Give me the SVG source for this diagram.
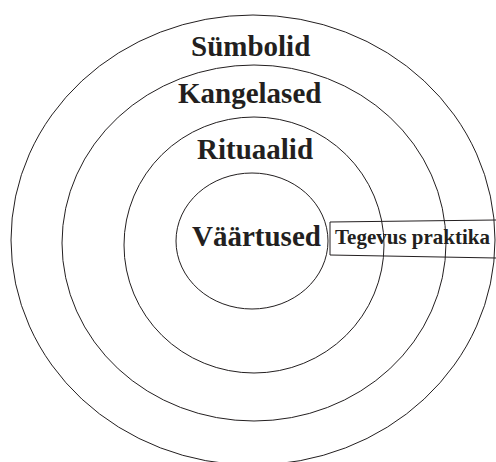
<svg xmlns="http://www.w3.org/2000/svg" width="496" height="462" viewBox="0 0 496 462">
<style>
.ring{fill:none;stroke:#231f20;stroke-width:1}
.lbl{font-family:"Liberation Serif","Times New Roman",serif;font-weight:bold;fill:#231f20}
.big{font-size:29px}
.small{font-size:21px}
</style>
<rect width="496" height="462" fill="#fff"/>
<g id="ring-symbolid"><ellipse class="ring" cx="253" cy="240" rx="242" ry="225"/><text class="lbl big" x="191" y="56">Sümbolid</text></g>
<g id="ring-kangelased"><ellipse class="ring" cx="254" cy="243" rx="192" ry="178"/><text class="lbl big" x="178" y="103">Kangelased</text></g>
<g id="ring-rituaalid"><ellipse class="ring" cx="254" cy="245" rx="130" ry="128"/><text class="lbl big" x="197" y="159">Rituaalid</text></g>
<g id="core-vaartused"><ellipse class="ring" cx="252" cy="241" rx="76" ry="68"/><text class="lbl big" x="192" y="246">Väärtused</text></g>
<g id="band-tegevus">
<path class="ring" d="M330 222 L496 220 M330 222 L330 255 M330 255 L496 258"/>
<text class="lbl small" x="335" y="244">Tegevus praktika</text>
</g>
</svg>
